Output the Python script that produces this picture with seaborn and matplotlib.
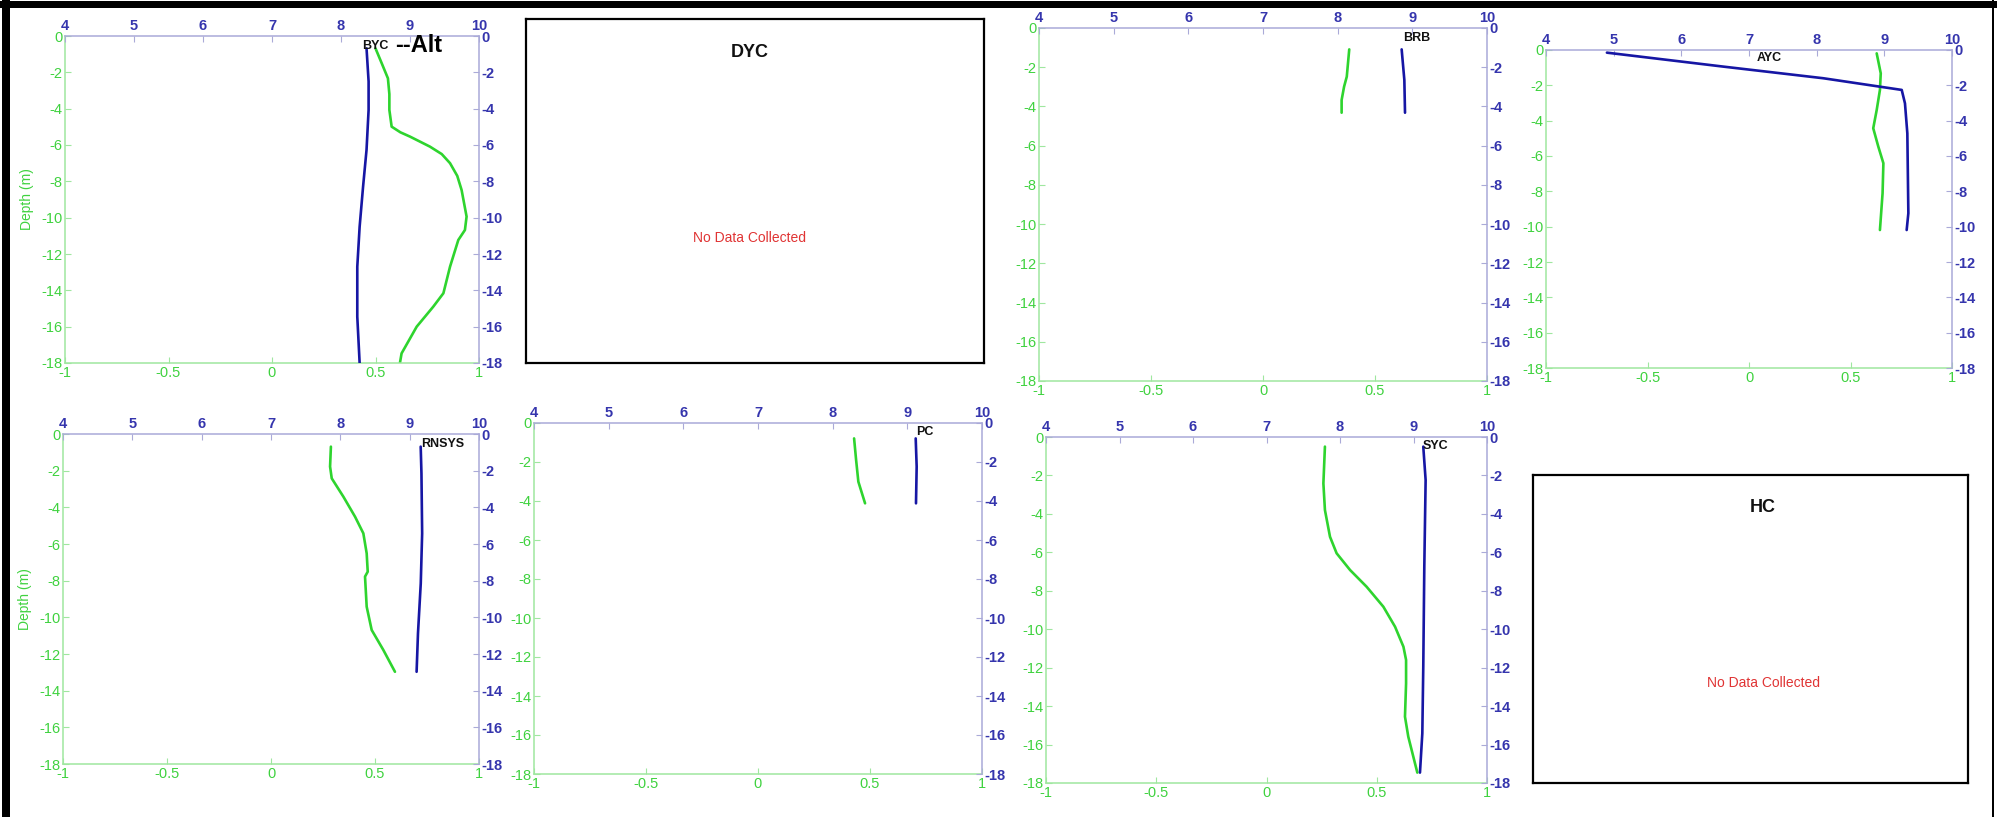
import matplotlib
matplotlib.use("Agg")
import matplotlib.pyplot as plt
import seaborn as sns
from matplotlib.patches import Rectangle

sns.set_style("white")
plt.rcParams["font.family"] = ["Liberation Sans", "DejaVu Sans"]
plt.rcParams["axes.unicode_minus"] = False

# ---------------------------------------------------------------- data
# green profile (bottom scale, -1..1) and blue profile (top scale, 4..10) vs depth (m)
byc_green_val = [0.50, 0.53, 0.56, 0.567, 0.567, 0.578, 0.62, 0.667, 0.763, 0.82, 0.86, 0.895, 0.916, 0.94, 0.932, 0.90, 0.86, 0.828, 0.779, 0.699, 0.626, 0.618]
byc_green_depth = [-0.68, -1.5, -2.33, -3.2, -4.07, -4.99, -5.3, -5.54, -6.09, -6.5, -7.0, -7.7, -8.48, -9.94, -10.68, -11.23, -12.7, -14.16, -14.9, -16.0, -17.47, -18.0]
byc_blue_val = [8.37, 8.40, 8.40, 8.37, 8.32, 8.27, 8.236, 8.236, 8.27]
byc_blue_depth = [-0.68, -2.5, -4.07, -6.27, -8.29, -10.5, -12.7, -15.45, -18.0]

brb_green_val = [0.385, 0.374, 0.362, 0.351, 0.351]
brb_green_depth = [-1.09, -2.48, -2.99, -3.67, -4.32]
brb_blue_val = [8.857, 8.893, 8.902]
brb_blue_depth = [-1.09, -2.65, -4.32]

ayc_green_val = [0.629, 0.649, 0.645, 0.629, 0.612, 0.637, 0.662, 0.658, 0.645]
ayc_green_depth = [-0.19, -1.32, -2.26, -3.4, -4.43, -5.47, -6.41, -8.11, -10.19]
ayc_blue_val = [4.90, 6.62, 8.10, 9.257, 9.305, 9.34, 9.355, 9.33]
ayc_blue_depth = [-0.15, -0.94, -1.6, -2.26, -3.02, -4.72, -9.24, -10.19]

rnsys_green_val = [0.288, 0.284, 0.292, 0.348, 0.404, 0.444, 0.46, 0.465, 0.452, 0.46, 0.484, 0.54, 0.596]
rnsys_green_depth = [-0.69, -1.78, -2.42, -3.42, -4.51, -5.42, -6.51, -7.51, -7.78, -9.42, -10.69, -11.78, -12.97]
rnsys_blue_val = [9.159, 9.17, 9.18, 9.16, 9.12, 9.10]
rnsys_blue_depth = [-0.69, -2.15, -5.42, -8.15, -10.87, -12.97]

pc_green_val = [0.429, 0.438, 0.448, 0.478]
pc_green_depth = [-0.79, -1.9, -3.01, -4.12]
pc_blue_val = [9.112, 9.125, 9.116]
pc_blue_depth = [-0.79, -2.24, -4.12]

syc_green_val = [0.265, 0.258, 0.265, 0.288, 0.318, 0.379, 0.454, 0.53, 0.583, 0.621, 0.633, 0.633, 0.628, 0.643, 0.684]
syc_green_depth = [-0.5, -2.41, -3.8, -5.19, -6.05, -6.92, -7.79, -8.83, -9.87, -10.91, -11.6, -12.82, -14.55, -15.59, -17.46]
syc_blue_val = [9.133, 9.165, 9.147, 9.133, 9.12, 9.088]
syc_blue_depth = [-0.5, -2.24, -6.75, -11.95, -15.42, -17.46]

stations = ["BYC", "DYC", "BRB", "AYC", "RNSYS", "PC", "SYC", "HC"]
no_data_text = "No Data Collected"
depth_label = "Depth (m)"
extra_note = "--Alt"

bottom_ticks = [-1, -0.5, 0, 0.5, 1]
bottom_ticklabels = ["-1", "-0.5", "0", "0.5", "1"]
top_ticks = [4, 5, 6, 7, 8, 9, 10]
top_ticklabels = ["4", "5", "6", "7", "8", "9", "10"]
depth_ticks = [0, -2, -4, -6, -8, -10, -12, -14, -16, -18]
depth_ticklabels = ["0", "-2", "-4", "-6", "-8", "-10", "-12", "-14", "-16", "-18"]

# ---------------------------------------------------------------- style
GREEN_TXT = "#3fd23f"
GREEN_AX = "#9fe79f"
BLUE_TXT = "#3535ad"
BLUE_AX = "#aaaad8"
GREEN_LINE = "#2ed42e"
BLUE_LINE = "#1616a4"
RED_TXT = "#e03434"

W, H = 1997, 817
fig = plt.figure(figsize=(W / 100, H / 100), dpi=100)
fig.patch.set_facecolor("white")


def rect_px(left, right, top, bottom):
    return [left / W, 1 - bottom / H, (right - left) / W, (bottom - top) / H]


def profile_panel(rect, name, green_v, green_d, blue_v, blue_d, label_xy, show_ylabel):
    ax = fig.add_axes(rect)
    ax2 = fig.add_axes(rect)
    ax2.patch.set_alpha(0)

    sns.lineplot(x=green_v, y=green_d, sort=False, estimator=None, ax=ax,
                 color=GREEN_LINE, linewidth=1.9)
    sns.lineplot(x=blue_v, y=blue_d, sort=False, estimator=None, ax=ax2,
                 color=BLUE_LINE, linewidth=1.9)

    ax.set_xlim(-1, 1)
    ax.set_ylim(-18, 0)
    ax2.set_xlim(4, 10)
    ax2.set_ylim(-18, 0)

    ax.set_xticks(bottom_ticks, labels=bottom_ticklabels)
    ax.set_yticks(depth_ticks, labels=depth_ticklabels)
    ax2.set_xticks(top_ticks, labels=top_ticklabels)
    ax2.set_yticks(depth_ticks, labels=depth_ticklabels)
    ax2.xaxis.tick_top()
    ax2.yaxis.tick_right()

    ax.set_xlabel("")
    ax.set_ylabel("")
    ax2.set_xlabel("")
    ax2.set_ylabel("")

    for s in ["top", "right"]:
        ax.spines[s].set_visible(False)
    for s in ["bottom", "left"]:
        ax.spines[s].set_color(GREEN_AX)
        ax.spines[s].set_linewidth(1.1)
        ax2.spines[s].set_visible(False)
    for s in ["top", "right"]:
        ax2.spines[s].set_color(BLUE_AX)
        ax2.spines[s].set_linewidth(1.1)

    ax.tick_params(axis="both", direction="in", length=4, width=0.8,
                   color=GREEN_AX, labelcolor=GREEN_TXT, labelsize=10.5, pad=2,
                   bottom=True, left=True, top=False, right=False)
    ax2.tick_params(axis="both", direction="in", length=4, width=0.8,
                    color=BLUE_AX, labelcolor=BLUE_TXT, labelsize=10.5, pad=2,
                    top=True, right=True, bottom=False, left=False,
                    labeltop=True, labelright=True, labelbottom=False, labelleft=False)
    for lab in ax2.get_xticklabels() + ax2.get_yticklabels():
        lab.set_fontweight("bold")
    ax.grid(False)
    ax2.grid(False)

    ax2.text(label_xy[0], label_xy[1], name, fontsize=9, fontweight="bold",
             color="#111111", ha="left", va="center")

    if show_ylabel:
        ax.set_ylabel(depth_label, color=GREEN_TXT, fontsize=10, labelpad=5)
    return ax, ax2


def empty_panel(rect, name, title_y, note_x, note_y):
    ax = fig.add_axes(rect)
    ax.set_xticks([])
    ax.set_yticks([])
    for s in ax.spines.values():
        s.set_visible(True)
        s.set_color("black")
        s.set_linewidth(1.6)
    ax.text(note_x, title_y, name, transform=ax.transAxes, ha="center", va="center",
            fontsize=13, fontweight="bold", color="#111111")
    ax.text(note_x, note_y, no_data_text, transform=ax.transAxes, ha="center", va="center",
            fontsize=10, color=RED_TXT)
    return ax


# top row
profile_panel(rect_px(65, 479, 36, 363), stations[0], byc_green_val, byc_green_depth,
              byc_blue_val, byc_blue_depth, (8.30, -0.55), True)
empty_panel(rect_px(526, 984, 19, 363), stations[1], 0.904, 0.489, 0.363)
profile_panel(rect_px(1039, 1487, 28, 381), stations[2], brb_green_val, brb_green_depth,
              brb_blue_val, brb_blue_depth, (8.87, -0.5), False)
profile_panel(rect_px(1546, 1952, 50, 368), stations[3], ayc_green_val, ayc_green_depth,
              ayc_blue_val, ayc_blue_depth, (7.12, -0.45), False)

# bottom row
profile_panel(rect_px(63, 479, 434, 764), stations[4], rnsys_green_val, rnsys_green_depth,
              rnsys_blue_val, rnsys_blue_depth, (9.16, -0.55), True)
profile_panel(rect_px(534, 982, 423, 774), stations[5], pc_green_val, pc_green_depth,
              pc_blue_val, pc_blue_depth, (9.12, -0.46), False)
profile_panel(rect_px(1046, 1487, 437, 783), stations[6], syc_green_val, syc_green_depth,
              syc_blue_val, syc_blue_depth, (9.13, -0.47), False)
empty_panel(rect_px(1533, 1968, 475, 783), stations[7], 0.896, 0.529, 0.325)

# annotation beside the first station label
fig.text(395 / W, 1 - 45 / H, extra_note, fontsize=17, fontweight="bold",
         color="black", ha="left", va="center")

# black frame strips along the top, left and right edges
fig.add_artist(Rectangle((0, 1 - 8 / H), 1, 7 / H, transform=fig.transFigure,
                         facecolor="black", edgecolor="none"))
fig.add_artist(Rectangle((2 / W, 0), 8 / W, 1, transform=fig.transFigure,
                         facecolor="black", edgecolor="none"))
fig.add_artist(Rectangle((1992 / W, 0), 2 / W, 1, transform=fig.transFigure,
                         facecolor="black", edgecolor="none"))

fig.savefig("out.png", dpi=100, facecolor="white")
